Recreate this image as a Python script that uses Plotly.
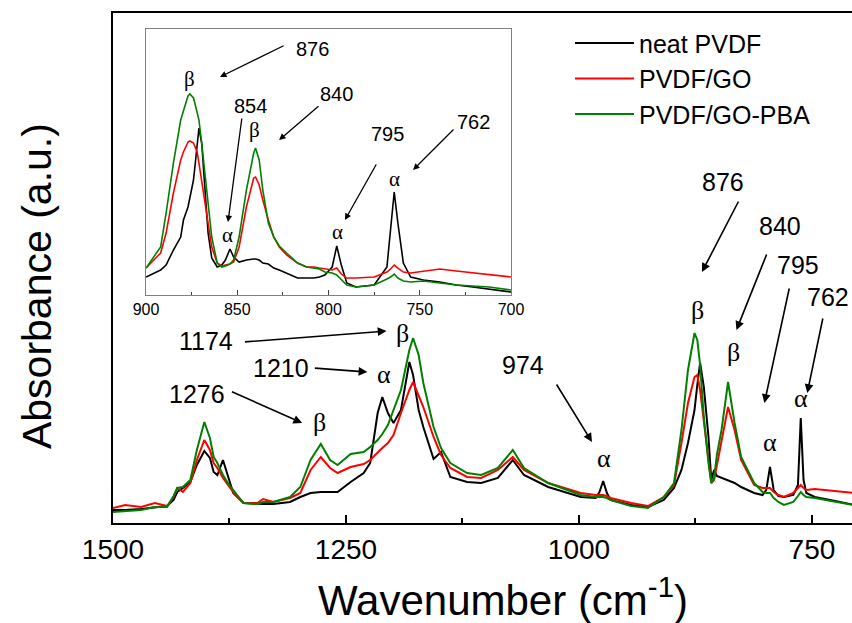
import plotly.graph_objects as go

# ---------------- FTIR spectra, full range (absorbance, a.u.) ----------------
WAVENUMBER = [1500, 1487, 1470, 1455, 1442, 1435, 1431, 1425, 1417, 1410, 1402, 1396,
              1392, 1388, 1382, 1376, 1371, 1360, 1345, 1339, 1328, 1310, 1299, 1288,
              1277, 1267, 1259, 1245, 1231, 1224, 1216, 1211, 1205, 1199, 1191, 1182,
              1178, 1172, 1167, 1156, 1148, 1138, 1120, 1105, 1087, 1071, 1059, 1033,
              998, 982, 978, 974, 970, 966, 944, 926, 909, 898, 890, 883, 876, 873,
              870, 866, 861, 858, 855, 852, 847, 840, 833, 826, 812, 803, 799, 795,
              791, 786, 780, 770, 765, 762, 759, 756, 747, 725, 705]

NEAT_PVDF = [.013, .013, .014, .016, .017, .023, .031, .035, .041, .058, .072, .065,
             .051, .048, .063, .045, .030, .020, .019, .019, .019, .021, .026, .030,
             .031, .031, .031, .041, .050, .060, .110, .126, .110, .100, .113, .161,
             .148, .113, .096, .064, .071, .046, .041, .040, .045, .063, .048, .036,
             .026, .025, .031, .042, .030, .023, .018, .016, .023, .035, .053, .080,
             .113, .138, .160, .136, .086, .043, .053, .047, .045, .043, .040, .036,
             .030, .028, .033, .056, .033, .027, .026, .028, .038, .105, .043, .030,
             .026, .022, .018]

PVDF_GO = [.015, .018, .016, .020, .017, .026, .035, .031, .040, .063, .083, .073,
           .060, .055, .045, .037, .031, .020, .020, .024, .021, .025, .030, .053,
           .066, .055, .050, .056, .059, .063, .071, .075, .080, .088, .110, .133,
           .141, .128, .116, .086, .068, .055, .046, .045, .053, .066, .053, .040,
           .030, .028, .028, .028, .027, .025, .020, .017, .026, .038, .080, .120,
           .146, .148, .133, .100, .060, .040, .043, .058, .080, .116, .093, .063,
           .038, .035, .035, .035, .031, .028, .026, .030, .035, .038, .035, .033,
           .034, .032, .030]

PVDF_GO_PBA = [.011, .012, .013, .016, .016, .027, .035, .036, .043, .073, .101, .085,
               .066, .060, .048, .039, .033, .020, .019, .021, .021, .026, .036, .063,
               .079, .063, .058, .069, .071, .076, .083, .089, .098, .113, .133, .173,
               .185, .168, .140, .096, .075, .060, .050, .048, .055, .073, .055, .040,
               .028, .026, .026, .026, .025, .023, .017, .015, .026, .040, .093, .153,
               .190, .183, .158, .106, .060, .040, .045, .068, .093, .141, .100, .066,
               .040, .031, .030, .030, .025, .021, .018, .021, .027, .031, .028, .026,
               .025, .021, .018]

# ---------------- inset: 900-700 cm-1 region ----------------
INSET_WAVENUMBER = [900, 894, 892, 889, 885, 881, 879.5, 877, 876, 874, 873, 872, 871,
                    869.5, 868, 867, 866, 864, 861, 858.5, 856.5, 854, 852, 849, 845,
                    841, 840, 838, 836, 833, 830, 827, 823, 817, 812, 808, 805, 802,
                    798, 795.5, 793, 790, 785, 775, 768, 766, 764, 762, 759, 755, 748,
                    739, 730, 721, 712, 700]

INSET_NEAT = [.018, .023, .025, .030, .045, .058, .075, .088, .098, .115, .132, .152,
              .167, .152, .115, .088, .062, .037, .028, .030, .035, .046, .038, .033,
              .035, .036, .036, .035, .032, .031, .027, .025, .022, .017, .017, .017,
              .018, .020, .028, .049, .030, .012, .008, .010, .028, .068, .103, .072,
              .032, .018, .015, .013, .010, .008, .006, .003]

INSET_GO = [.027, .038, .042, .062, .102, .135, .143, .153, .154, .152, .147, .143,
            .132, .115, .098, .083, .075, .048, .032, .029, .030, .031, .033, .048,
            .088, .117, .118, .110, .095, .075, .058, .048, .040, .032, .028, .028,
            .027, .026, .025, .027, .021, .017, .017, .018, .023, .026, .030, .027,
            .023, .022, .024, .026, .024, .022, .020, .018]

INSET_GO_PBA = [.027, .042, .048, .082, .132, .175, .185, .199, .201, .197, .190, .183,
                .175, .152, .128, .108, .093, .058, .032, .028, .029, .031, .035, .058,
                .105, .142, .147, .135, .105, .072, .058, .049, .042, .032, .028, .027,
                .026, .023, .022, .020, .015, .010, .008, .010, .016, .018, .021, .017,
                .014, .013, .014, .012, .010, .009, .008, .005]

SERIES_NAMES = ["neat PVDF", "PVDF/GO", "PVDF/GO-PBA"]
SERIES_COLORS = ["#000000", "#ff0000", "#008000"]

# peak assignments: wavenumber label and crystalline phase
MAIN_PEAKS = ["1276", "1210", "1174", "974", "876", "840", "795", "762"]
MAIN_PHASES = ["β", "α", "β", "α", "β", "β", "α", "α"]
INSET_PEAKS = ["876", "854", "840", "795", "762"]
INSET_PHASES = ["β", "α", "β", "α", "α"]

X_TITLE = "Wavenumber (cm<sup>-1</sup>)"
Y_TITLE = "Absorbance (a.u.)"

SANS = "Liberation Sans, Arial, sans-serif"
SERIF = "Liberation Serif, Times New Roman, serif"

fig = go.Figure()

main_sets = [NEAT_PVDF, PVDF_GO, PVDF_GO_PBA]
inset_sets = [INSET_NEAT, INSET_GO, INSET_GO_PBA]
for name, color, ys in zip(SERIES_NAMES, SERIES_COLORS, main_sets):
    fig.add_trace(go.Scatter(x=WAVENUMBER, y=ys, name=name, mode="lines",
                             line=dict(color=color, width=2), xaxis="x", yaxis="y"))
for name, color, ys in zip(SERIES_NAMES, SERIES_COLORS, inset_sets):
    fig.add_trace(go.Scatter(x=INSET_WAVENUMBER, y=ys, name=name, mode="lines",
                             line=dict(color=color, width=1.6), xaxis="x2", yaxis="y2",
                             showlegend=False))

annotations = []

# main panel: label text, arrow tail/head and phase symbol (data coordinates)
main_text_pos = [(1410, .129), (1320, .155), (1400, .182), (1060, .158),
                 (845, .341), (784, .297), (764.5, .258), (732.7, .226)]
main_arrows = [((1374, .132), (1297, .100)), ((1285, .155), (1227, .151)),
               ((1360, .181), (1206.5, .192)), ((1025, .140), (986, .081)),
               ((828, .323), (868, .251)), ((798, .270), (831, .193)),
               ((774, .236), (801, .120)), ((738, .206), (755, .130))]
main_phase_pos = [(1278.5, .101), (1209.7, .149), (1189, .190), (973, .065),
                  (873, .213), (834, .171), (795, .081), (762, .125)]

for label, phase, (tx, ty), (tail, head), (px, py) in zip(
        MAIN_PEAKS, MAIN_PHASES, main_text_pos, main_arrows, main_phase_pos):
    annotations.append(dict(x=tx, y=ty, xref="x", yref="y", text=label, showarrow=False,
                            font=dict(family=SANS, size=25, color="black")))
    annotations.append(dict(x=head[0], y=head[1], ax=tail[0], ay=tail[1],
                            xref="x", yref="y", axref="x", ayref="y", text="",
                            showarrow=True, arrowhead=2, arrowsize=1.1, arrowwidth=1.6,
                            arrowcolor="black"))
    annotations.append(dict(x=px, y=py, xref="x", yref="y", text=phase, showarrow=False,
                            font=dict(family=SERIF, size=26, color="black")))

# inset panel
inset_text_pos = [(809, .246), (843, .189), (795.9, .201), (767.9, .161), (720.8, .173)]
inset_arrows = [((823.8, .250), (859.5, .218)), ((847.4, .178), (855.1, .073)),
                ((804.7, .190), (827.1, .155)), ((773.4, .132), (791, .075)),
                ((730.7, .167), (753.7, .125))]
inset_phase_pos = [(876.4, .216), (855.1, .060), (840.3, .165), (795.3, .063), (763.6, .116)]

for label, phase, (tx, ty), (tail, head), (px, py) in zip(
        INSET_PEAKS, INSET_PHASES, inset_text_pos, inset_arrows, inset_phase_pos):
    annotations.append(dict(x=tx, y=ty, xref="x2", yref="y2", text=label, showarrow=False,
                            font=dict(family=SANS, size=20, color="black")))
    annotations.append(dict(x=head[0], y=head[1], ax=tail[0], ay=tail[1],
                            xref="x2", yref="y2", axref="x2", ayref="y2", text="",
                            showarrow=True, arrowhead=2, arrowsize=1.0, arrowwidth=1.3,
                            arrowcolor="black"))
    annotations.append(dict(x=px, y=py, xref="x2", yref="y2", text=phase, showarrow=False,
                            font=dict(family=SERIF, size=21, color="black")))

# axis titles
annotations.append(dict(x=0.5277, y=-0.145, xref="paper", yref="paper", text=X_TITLE,
                        showarrow=False, xanchor="center", yanchor="middle",
                        font=dict(family=SANS, size=42, color="black")))
annotations.append(dict(x=-0.1028, y=0.4647, xref="paper", yref="paper", text=Y_TITLE,
                        showarrow=False, xanchor="center", yanchor="middle", textangle=-90,
                        font=dict(family=SANS, size=41, color="black")))

fig.update_layout(
    width=852, height=623,
    margin=dict(l=113, r=0, t=13, b=100, autoexpand=False),
    paper_bgcolor="white", plot_bgcolor="white",
    font=dict(family=SANS, color="black"),
    showlegend=True,
    legend=dict(x=0.6184, y=0.9857, xanchor="left", yanchor="top",
                font=dict(family=SANS, size=25, color="black"),
                itemwidth=59, bgcolor="rgba(0,0,0,0)", tracegroupgap=0),
    xaxis=dict(range=[1500, 707], domain=[0, 1], showgrid=False, zeroline=False,
               showline=True, linecolor="black", linewidth=2, mirror=True,
               ticks="inside", ticklen=8, tickwidth=1.5, tickcolor="black",
               tickmode="array", tickvals=[1500, 1250, 1000, 750],
               minor=dict(ticks="inside", ticklen=5, tickwidth=1.5, tickcolor="black",
                          tickmode="array", tickvals=[1375, 1125, 875]),
               tickfont=dict(family=SANS, size=28, color="black")),
    yaxis=dict(range=[0, 0.51], domain=[0, 1], showgrid=False, zeroline=False,
               showline=True, linecolor="black", linewidth=2, mirror=False,
               ticks="", showticklabels=False),
    xaxis2=dict(range=[900, 700], domain=[0.0447, 0.5386], anchor="y2",
                showgrid=False, zeroline=False, showline=True, linecolor="#808080",
                linewidth=1, mirror=True, ticks="inside", ticklen=5, tickcolor="#404040",
                tickmode="array", tickvals=[900, 850, 800, 750, 700],
                minor=dict(ticks="inside", ticklen=3, tickcolor="#404040",
                           tickmode="array", tickvals=[875, 825, 775, 725]),
                tickfont=dict(family=SANS, size=16, color="black")),
    yaxis2=dict(range=[0, 0.266], domain=[0.447, 0.9686], anchor="x2",
                showgrid=False, zeroline=False, showline=True, linecolor="#808080",
                linewidth=1, mirror=True, ticks="", showticklabels=False),
    annotations=annotations,
)

fig.write_html("out.html")
